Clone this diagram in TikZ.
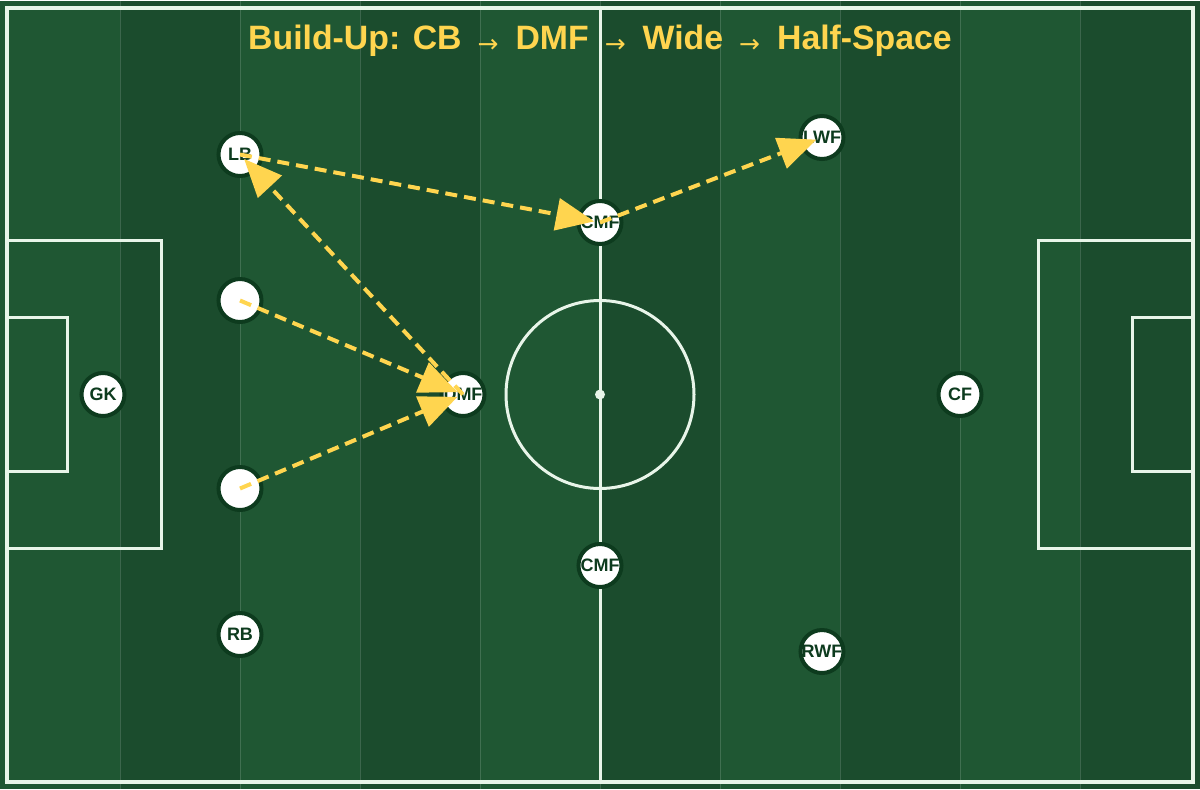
\documentclass[tikz,border=0pt]{standalone}
\usepackage{fontspec}
\setmainfont{Liberation Sans}
\newfontfamily\arrowfont{DejaVu Sans}
\usetikzlibrary{arrows.meta}
\definecolor{pitchlight}{HTML}{1F5733}
\definecolor{pitchdark}{HTML}{1B4C2D}
\definecolor{chalk}{HTML}{E8F5E9}
\definecolor{gold}{HTML}{FFD54F}
\definecolor{ink}{HTML}{0D3B1E}
\newcommand\titlearrow{\hspace{8pt}\raisebox{-1.5pt}{\arrowfont\mdseries\fontsize{12.5}{12}\selectfont →}\hspace{8.5pt}}

\begin{document}
\begin{tikzpicture}[x=0.5pt, y=-0.5pt,
  player/.style={circle, draw=ink, line width=2pt, fill=white, minimum size=21.5pt,
    inner sep=0pt, label={[text=ink, font=\bfseries\fontsize{9}{9}\selectfont]center:#1}},
  player/.default={},
  chalkline/.style={draw=chalk, line width=1.5pt},
  pass/.style={draw=gold, line width=2pt, dash pattern=on 6pt off 3.5pt,
    shorten >=3pt, -{Triangle[length=19pt, width=16pt]}}]
  \fill[pitchdark] (0,0) rectangle (1200,788);
  \foreach \x in {0,240,...,960}
    \fill[pitchlight] (\x,0) rectangle ++(120,788);
  \foreach \x in {120,240,...,1080}
    \draw[white, opacity=0.15, line width=0.5pt] (\x,0) -- (\x,788);

  \draw[chalk, line width=2pt] (7,7) rectangle (1193,781);
  \draw[chalkline] (600,7) -- (600,781);
  \draw[chalkline] (600,394) circle [radius=94];
  \fill[chalk] (600,394) circle [radius=5];
  \draw[chalkline] (7,240) rectangle (161,548);
  \draw[chalkline] (7,317) rectangle (67,471);
  \draw[chalkline] (1193,240) rectangle (1038,548);
  \draw[chalkline] (1193,317) rectangle (1132,471);

  \node[text=gold, font=\bfseries\fontsize{16.9}{17}\selectfont] (title) at (600,40)
  {Build-Up: CB\titlearrow DMF\titlearrow Wide\titlearrow Half-Space};

  \node[player=GK] (GK) at (103,394) {};
  \node[player=LB] (LB) at (240,154) {};
  \node[player] (LCB) at (240,300) {};
  \node[player] (RCB) at (240,488) {};
  \node[player=RB] (RB) at (240,634) {};
  \node[player=DMF] (DMF) at (463,394) {};
  \node[player=CMF] (LCMF) at (600,222) {};
  \node[player=CMF] (RCMF) at (600,565) {};
  \node[player=LWF] (LWF) at (822,137) {};
  \node[player=RWF] (RWF) at (822,651) {};
  \node[player=CF] (CF) at (960,394) {};

  \draw[pass] (LCB.center) -- (DMF.center);
  \draw[pass] (RCB.center) -- (DMF.center);
  \draw[pass] (DMF.center) -- (LB.center);
  \draw[pass] (LB.center) -- (LCMF.center);
  \draw[pass] (LCMF.center) -- (LWF.center);
\end{tikzpicture}
\end{document}
